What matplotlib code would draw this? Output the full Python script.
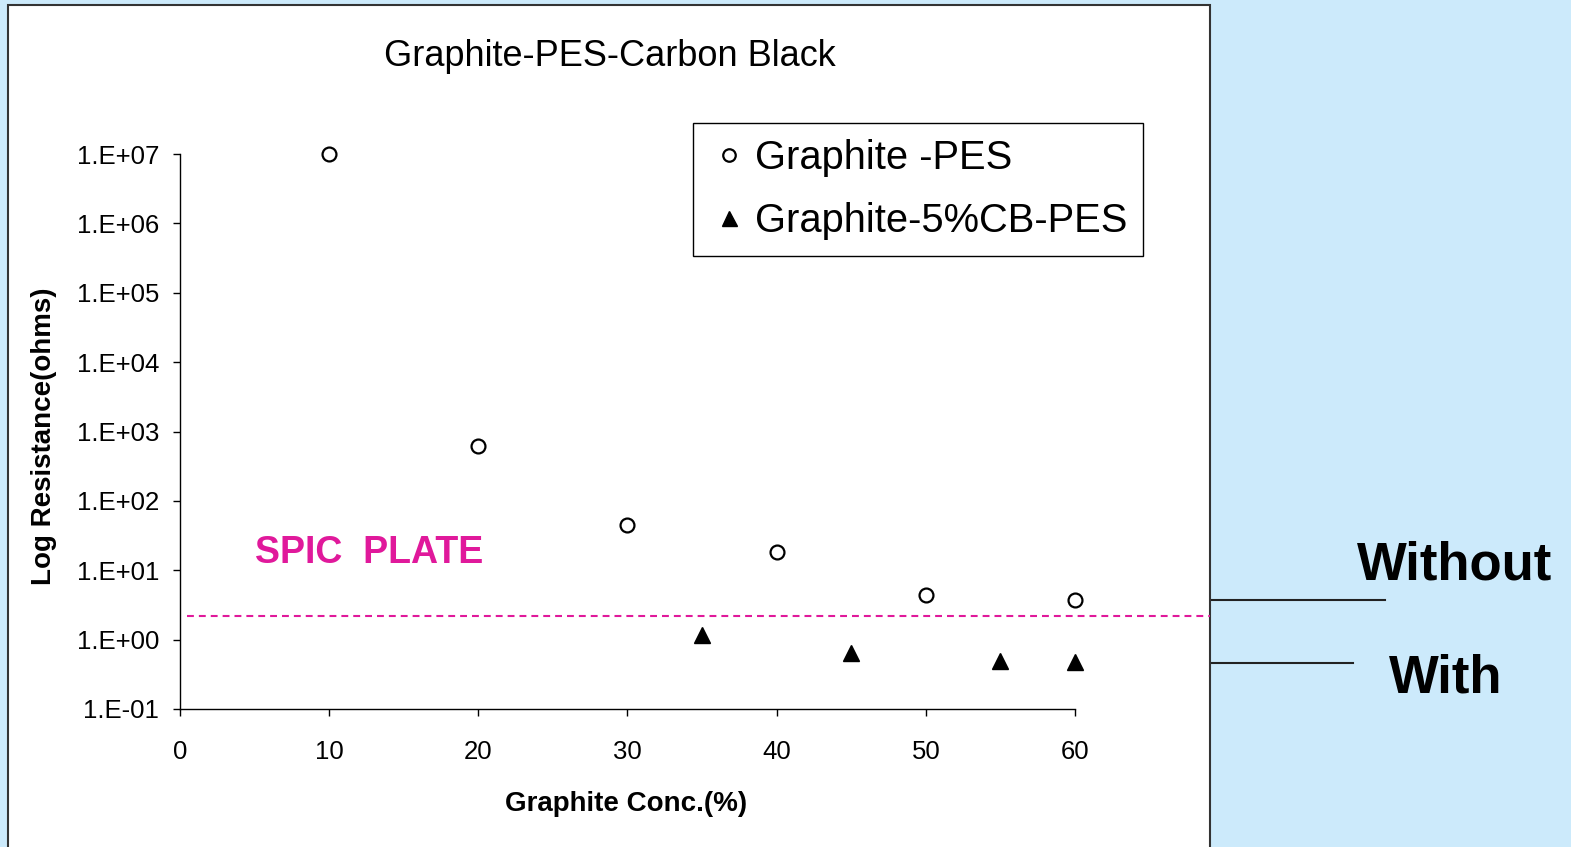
"""Graphite-PES-Carbon Black resistance chart"""

import matplotlib
matplotlib.use('Agg')
import matplotlib.pyplot as plt
from matplotlib.patches import Rectangle
from matplotlib.lines import Line2D
from matplotlib.ticker import FixedLocator, FuncFormatter, NullLocator
import numpy as np

# data
conc_pes = [10, 20, 30, 40, 50, 60]
res_pes = [1.0e7, 620, 45, 18.5, 4.4, 3.7]
conc_cb = [35, 45, 55, 60]
res_cb = [1.17, 0.65, 0.50, 0.47]
spic_plate = 2.2
y_ticks = [1e-1, 1e0, 1e1, 1e2, 1e3, 1e4, 1e5, 1e6, 1e7]
x_ticks = [0, 10, 20, 30, 40, 50, 60]

W, H = 1571, 847
BG = '#CCEAFB'
PINK = '#E0199B'

plt.rcParams['font.family'] = ['Liberation Sans', 'DejaVu Sans']


def fx(px):
    return px / W


def fy(py):
    return 1 - py / H


def main():
    fig = plt.figure(figsize=(W / 100, H / 100), dpi=100, facecolor=BG)

    # white panel
    fig.add_artist(Rectangle((fx(8), -0.05), fx(1210) - fx(8), fy(5) + 0.05,
                             transform=fig.transFigure, facecolor='white',
                             edgecolor='#333333', lw=1.5, zorder=0))

    ax = fig.add_axes([fx(180), fy(709), fx(1075) - fx(180), fy(154) - fy(709)])
    ax.set_facecolor('none')
    ax.set_yscale('log')
    ax.set_xlim(0, 60)
    ax.set_ylim(1e-1, 1e7)
    for s in ['top', 'right']:
        ax.spines[s].set_visible(False)
    for s in ['left', 'bottom']:
        ax.spines[s].set_linewidth(1.0)

    ax.yaxis.set_major_locator(FixedLocator(y_ticks))
    ax.yaxis.set_minor_locator(NullLocator())
    ax.yaxis.set_major_formatter(
        FuncFormatter(lambda v, p: "1.E%+03d" % int(round(np.log10(v)))))
    ax.set_xticks(x_ticks)
    ax.tick_params(axis='y', length=5, width=1, pad=10, labelsize=18.5)
    ax.tick_params(axis='x', length=5, width=1, pad=17, labelsize=18.5)

    ax.plot(conc_pes, res_pes, linestyle='none', marker='o', ms=10,
            mfc='white', mec='black', mew=1.6, clip_on=False,
            label='Graphite -PES', zorder=3)
    ax.plot(conc_cb, res_cb, linestyle='none', marker='^', ms=12,
            mfc='black', mec='black', clip_on=False,
            label='Graphite-5%CB-PES', zorder=3)

    ax.axhline(spic_plate, xmin=0.008, xmax=(1210 - 180) / (1075 - 180),
               color=PINK, lw=1.5, dashes=(3.3, 2.4), clip_on=False)
    ax.text(5, 17.8, 'SPIC  PLATE', color=PINK, fontsize=27,
            fontweight='bold', va='center', ha='left')

    leg = ax.legend(loc='upper left', bbox_to_anchor=(fx(693), fy(123)),
                    bbox_transform=fig.transFigure, fontsize=28.7,
                    frameon=True, fancybox=False, framealpha=1,
                    edgecolor='black', markerscale=0.9, handlelength=1.0,
                    handletextpad=0.15, borderpad=0.4, labelspacing=0.62,
                    borderaxespad=0)
    leg.get_frame().set_linewidth(1.0)

    fig.text(fx(610), fy(56), 'Graphite-PES-Carbon Black', fontsize=26,
             ha='center', va='center')
    ax.text((44 - 180) / 895, (709 - 436) / 555, 'Log Resistance(ohms)',
            transform=ax.transAxes, rotation=90, fontsize=20,
            fontweight='bold', ha='center', va='center')
    ax.text((626 - 180) / 895, (709 - 804) / 555, 'Graphite Conc.(%)',
            transform=ax.transAxes, fontsize=20, fontweight='bold',
            ha='center', va='center')

    # side annotations
    fig.add_artist(Line2D([fx(1212), fx(1385)], [fy(600), fy(600)],
                          transform=fig.transFigure, color='#222222', lw=1.5))
    fig.add_artist(Line2D([fx(1212), fx(1353)], [fy(663), fy(663)],
                          transform=fig.transFigure, color='#222222', lw=1.5))
    fig.text(fx(1455), fy(566), 'Without', fontsize=38, fontweight='bold',
             ha='center', va='center')
    fig.text(fx(1446), fy(678), 'With', fontsize=38, fontweight='bold',
             ha='center', va='center')

    fig.savefig('out.png', dpi=100, facecolor=BG)


if __name__ == "__main__":
    main()
